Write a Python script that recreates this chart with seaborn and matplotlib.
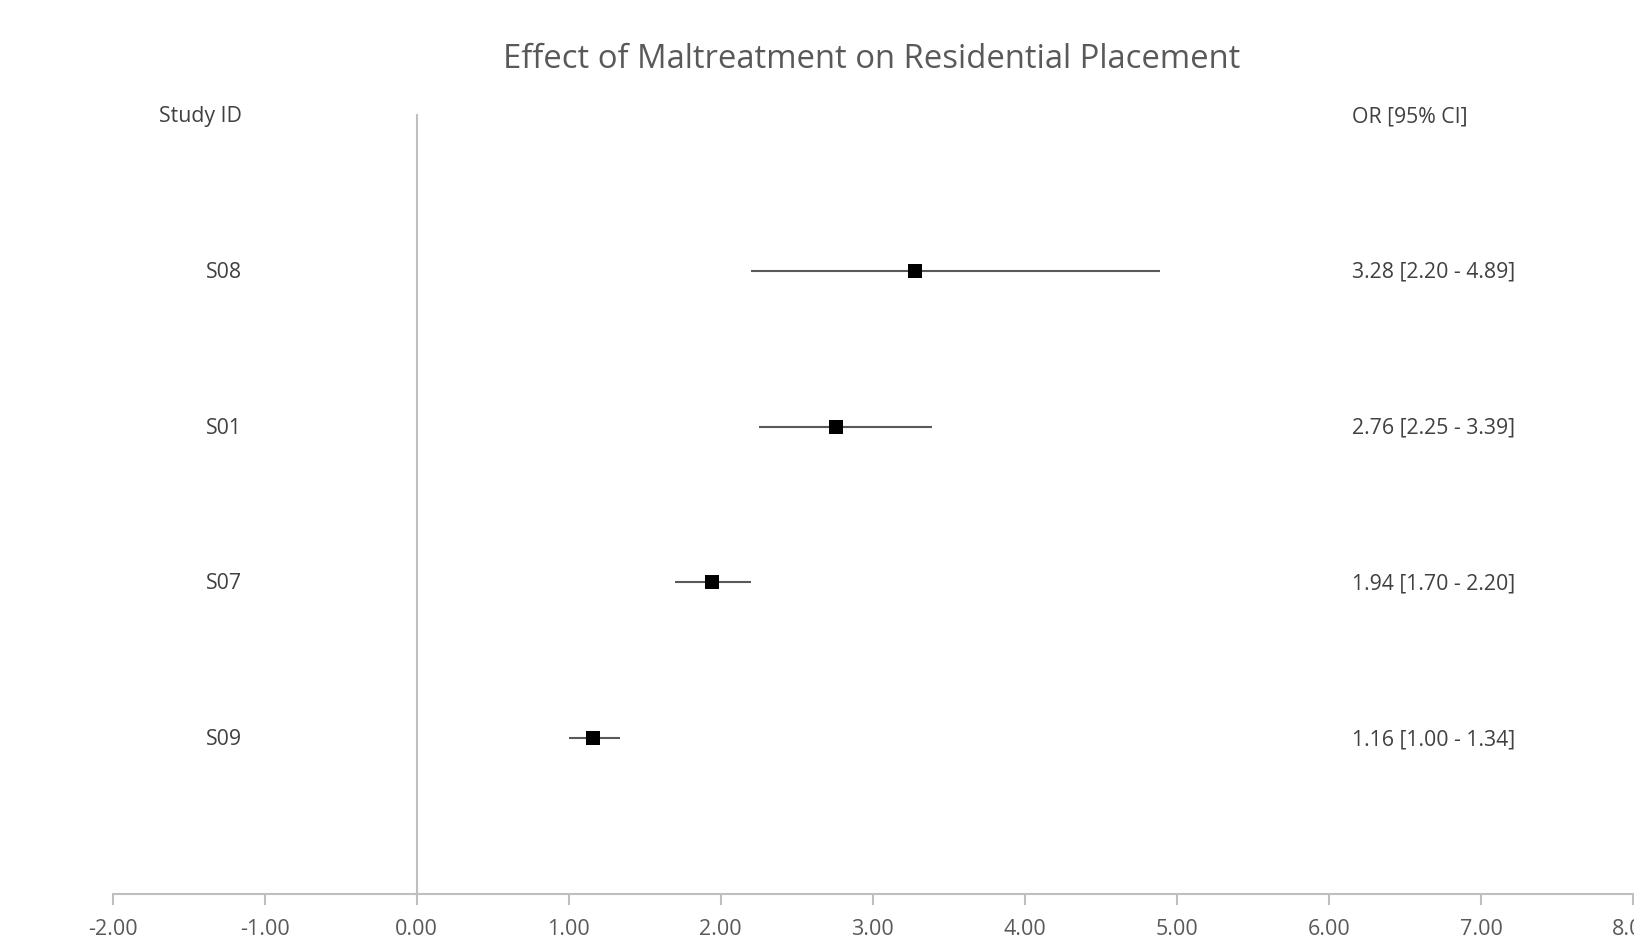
import pandas as pd
import matplotlib.pyplot as plt
import seaborn as sns

# Data
studies = ['S08', 'S01', 'S07', 'S09']
odds_ratio = [3.28, 2.76, 1.94, 1.16]
ci_low = [2.20, 2.25, 1.70, 1.00]
ci_high = [4.89, 3.39, 2.20, 1.34]
row_pos = [4, 3, 2, 1]
x_ticks = [-2, -1, 0, 1, 2, 3, 4, 5, 6, 7, 8]

df = pd.DataFrame({'Study': studies, 'OR': odds_ratio, 'Low': ci_low,
                   'High': ci_high, 'Row': row_pos})

sns.set_theme(style="white")
plt.rcParams['font.family'] = ['Open Sans', 'DejaVu Sans']

fig = plt.figure(figsize=(16.34, 9.41), dpi=100)
ax = fig.add_axes([112.5 / 1634, 47 / 941, (1633 - 112.5) / 1634, (894 - 115) / 941])

# CI lines
ax.hlines(df['Row'], df['Low'], df['High'], color='#595959', lw=1.5, zorder=2)
sns.scatterplot(data=df, x='OR', y='Row', marker='s', s=110, color='black',
                edgecolor='black', linewidth=0, ax=ax, zorder=3, legend=False)

# labels on both sides
txt_col = '#404040'
for _, r in df.iterrows():
    ax.text(-1.15, r['Row'] - 0.01, r['Study'], ha='right', va='center',
            fontsize=15.3, color=txt_col)
    ax.text(6.15, r['Row'] - 0.01, f"{r['OR']:.2f} [{r['Low']:.2f} - {r['High']:.2f}]",
            ha='left', va='center', fontsize=15.3, color=txt_col)
ax.text(-1.15, 4.99, 'Study ID', ha='right', va='center', fontsize=15.3, color=txt_col)
ax.text(6.15, 4.99, 'OR [95% CI]', ha='left', va='center', fontsize=15.3, color=txt_col)

ax.set_xlim(-2, 8)
ax.set_ylim(0, 5)
ax.set_xticks(x_ticks)
ax.set_xticklabels([f'{v:.2f}' for v in x_ticks], fontsize=15.5, color='#595959')
ax.set_yticks([])
ax.set_xlabel('')
ax.set_ylabel('')

for side in ['top', 'right']:
    ax.spines[side].set_visible(False)
ax.spines['left'].set_position(('data', 0))
ax.spines['left'].set_color('#BFBFBF')
ax.spines['left'].set_linewidth(1.5)
ax.spines['bottom'].set_color('#BFBFBF')
ax.spines['bottom'].set_linewidth(1.5)
ax.tick_params(axis='x', direction='out', length=8, width=1.5, color='#BFBFBF',
               pad=10, bottom=True)

fig.text(872 / 1634, 1 - 60 / 941, 'Effect of Maltreatment on Residential Placement',
         ha='center', va='center', fontsize=23.6, color='#595959')

fig.savefig('out.png', dpi=100)
